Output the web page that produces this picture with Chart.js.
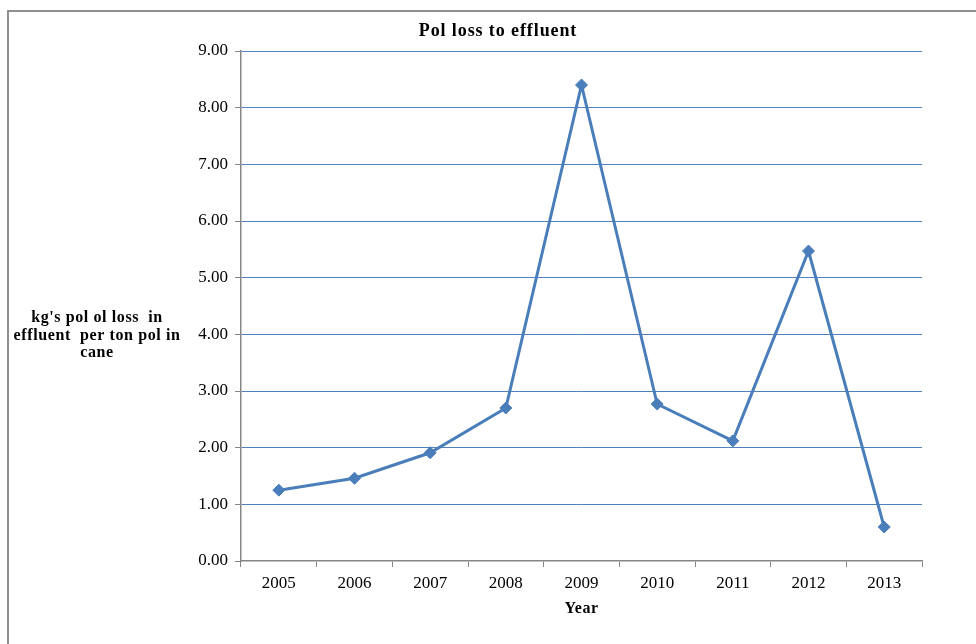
<!DOCTYPE html>
<html>
<head>
<meta charset="utf-8">
<script src="https://cdn.jsdelivr.net/npm/chart.js@4/dist/chart.umd.min.js"></script>
<style>
  html, body { margin: 0; padding: 0; background: #fff; }
  #wrap { position: relative; width: 976px; height: 644px; overflow: hidden; }
  #frame { position: absolute; left: 7px; top: 10px; width: 1000px; height: 700px;
           border-left: 2px solid #8f8f8f; border-top: 2px solid #8f8f8f; box-sizing: border-box; }
  canvas { position: absolute; left: 0; top: 0; }
</style>
</head>
<body>
<div id="wrap">
  <div id="frame"></div>
  <canvas id="c" width="976" height="644"></canvas>
</div>
<script>
// Pol loss to effluent, kg per ton pol in cane, by season
const years = ['2005', '2006', '2007', '2008', '2009', '2010', '2011', '2012', '2013'];
const polLoss = [1.25, 1.46, 1.91, 2.70, 8.40, 2.77, 2.12, 5.47, 0.60];
const yTicks = [0, 1, 2, 3, 4, 5, 6, 7, 8, 9];

const chartTitle = 'Pol loss to effluent';
const yTitleLines = ["kg's pol ol loss  in", 'effluent  per ton pol in', 'cane'];
const xTitle = 'Year';

const SERIF = '"Liberation Serif", "Times New Roman", serif';
const GRID_BLUE = '#4f81bd';
const AXIS_GREY = '#868686';

// Title, horizontal y-axis caption and x-axis caption drawn as plain canvas text
const captions = {
  id: 'captions',
  afterDraw(chart) {
    const ctx = chart.ctx;
    const area = chart.chartArea;
    ctx.save();
    ctx.fillStyle = '#000';
    ctx.textAlign = 'center';
    ctx.textBaseline = 'middle';

    ctx.font = 'bold 18px ' + SERIF;
    ctx.letterSpacing = '0.9px';
    ctx.fillText(chartTitle, 498, 31);

    ctx.font = 'bold 16px ' + SERIF;
    ctx.letterSpacing = '0.6px';
    yTitleLines.forEach((line, i) => ctx.fillText(line, 97, 318 + i * 17.5));

    ctx.font = 'bold 16px ' + SERIF;
    ctx.letterSpacing = '0.5px';
    ctx.fillText(xTitle, (area.left + area.right) / 2, 609);
    ctx.restore();
  }
};

new Chart(document.getElementById('c'), {
  type: 'line',
  data: {
    labels: years,
    datasets: [{
      data: polLoss,
      borderColor: '#4a7ebb',
      backgroundColor: '#4a7ebb',
      borderWidth: 3,
      tension: 0,
      fill: false,
      pointStyle: 'rectRot',
      pointRadius: 6,
      pointBorderWidth: 1,
      pointBorderColor: '#4a7ebb',
      pointBackgroundColor: '#4a7ebb'
    }]
  },
  options: {
    responsive: false,
    devicePixelRatio: 1,
    animation: false,
    layout: { padding: { top: 51, right: 54, bottom: 0, left: 0 } },
    plugins: {
      legend: { display: false },
      title: { display: false },
      tooltip: { enabled: false }
    },
    scales: {
      x: {
        offset: true,
        grid: {
          offset: true,
          drawOnChartArea: false,
          drawTicks: true,
          tickLength: 6,
          tickColor: AXIS_GREY
        },
        border: { color: AXIS_GREY, width: 1.5 },
        ticks: {
          color: '#000',
          font: { family: SERIF, size: 17 },
          padding: 6,
          maxRotation: 0
        },
        afterFit(s) { s.height = 83; }
      },
      y: {
        min: 0,
        max: 9,
        afterBuildTicks(s) { s.ticks = yTicks.map(v => ({ value: v })); },
        grid: {
          color: c => (c.tick && c.tick.value === 0) ? 'rgba(0,0,0,0)' : GRID_BLUE,
          lineWidth: 1,
          tickLength: 6,
          tickColor: AXIS_GREY
        },
        border: { color: AXIS_GREY, width: 1.5 },
        ticks: {
          color: '#000',
          font: { family: SERIF, size: 17 },
          padding: 7,
          callback: v => Number(v).toFixed(2)
        },
        afterFit(s) { s.width = 241; }
      }
    }
  },
  plugins: [captions]
});
</script>
</body>
</html>
